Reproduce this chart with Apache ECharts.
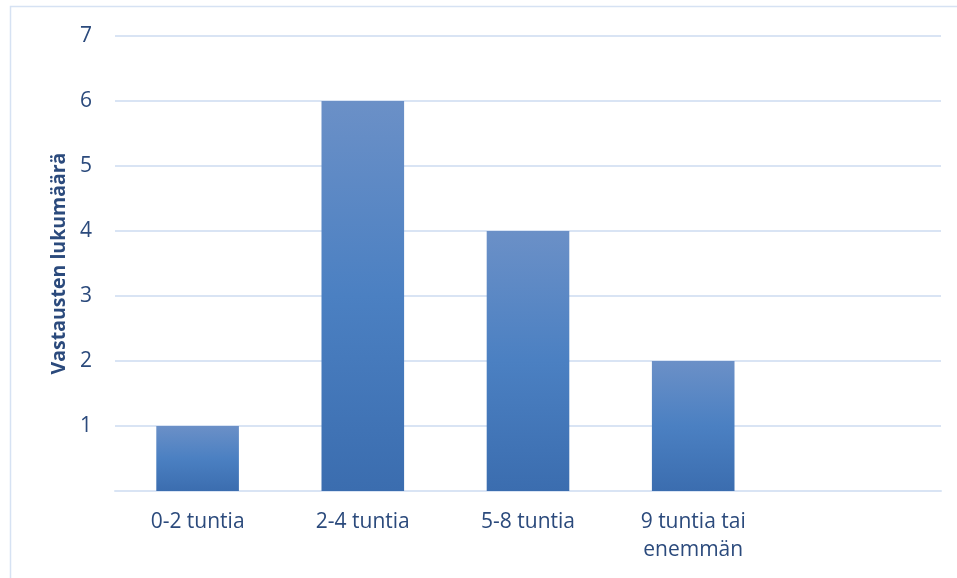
<!DOCTYPE html>
<html>
<head>
<meta charset="utf-8">
<script src="https://cdn.jsdelivr.net/npm/echarts@6/dist/echarts.min.js"></script>
<style>
  html, body { margin: 0; padding: 0; background: #ffffff; }
  #chart { width: 957px; height: 578px; }
</style>
</head>
<body>
<div id="chart"></div>
<script>
// Answer groups (hours); the fifth slot is left empty
const categories = ['0-2 tuntia', '2-4 tuntia', '5-8 tuntia', '9 tuntia tai\nenemmän', ''];
// Number of answers per group
const counts = [1, 6, 4, 2, null];
// Value axis range
const yMin = 0;
const yMax = 7;
const yStep = 1;

const textColor = '#2b4a7c';
const gridColor = '#d9e4f4';

const chart = echarts.init(document.getElementById('chart'), null, { renderer: 'canvas' });

chart.setOption({
  animation: false,
  backgroundColor: '#ffffff',
  graphic: [{
    type: 'rect',
    silent: true,
    shape: { x: 10.5, y: 6.5, width: 1000, height: 700 },
    style: { fill: 'none', stroke: '#d6e2f3', lineWidth: 1.5 }
  }],
  grid: { left: 115, right: 16, top: 36, bottom: 87, containLabel: false },
  xAxis: {
    type: 'category',
    data: categories,
    axisLine: { show: true, lineStyle: { color: gridColor, width: 2 } },
    axisTick: { show: false },
    axisLabel: {
      color: textColor,
      fontFamily: 'Open Sans',
      fontSize: 21,
      lineHeight: 28,
      margin: 17,
      interval: 0
    }
  },
  yAxis: {
    type: 'value',
    min: yMin,
    max: yMax,
    interval: yStep,
    name: 'Vastausten lukumäärä',
    nameLocation: 'middle',
    nameGap: 45,
    nameRotate: 90,
    nameTextStyle: {
      color: textColor,
      fontFamily: 'Open Sans',
      fontWeight: 'bold',
      fontSize: 19.5
    },
    axisLine: { show: false },
    axisTick: { show: false },
    splitLine: { lineStyle: { color: gridColor, width: 2 } },
    axisLabel: {
      color: textColor,
      fontFamily: 'Open Sans',
      fontSize: 21,
      margin: 23,
      showMinLabel: false
    }
  },
  series: [{
    type: 'bar',
    data: counts,
    barCategoryGap: '50%',
    itemStyle: {
      color: new echarts.graphic.LinearGradient(0, 0, 0, 1, [
        { offset: 0, color: '#6b90c7' },
        { offset: 0.5, color: '#4b80c2' },
        { offset: 1, color: '#3b6daf' }
      ])
    }
  }]
});
</script>
</body>
</html>
